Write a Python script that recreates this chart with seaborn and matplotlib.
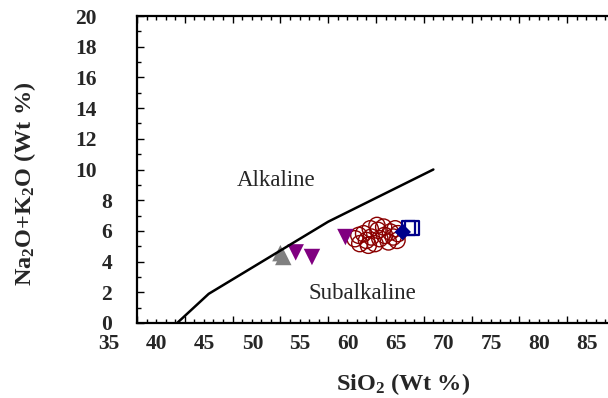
import numpy as np
import pandas as pd
import matplotlib
matplotlib.use('Agg')
import matplotlib.pyplot as plt
from matplotlib.transforms import ScaledTranslation
from matplotlib.ticker import MultipleLocator
import seaborn as sns

# alkaline / subalkaline boundary
line_sio2 = [39.2, 42.5, 55.0, 66.0]
line_alk = [0.0, 1.9, 6.6, 10.0]

# samples
circ_sio2 = [57.8, 58.3, 58.7, 59.0, 59.4, 59.5, 59.9, 60.2, 60.4, 60.8,
             60.9, 61.3, 61.5, 61.8, 62.0, 62.2, 58.2, 59.2, 60.1, 62.3]
circ_alk = [5.49, 5.17, 5.82, 5.38, 6.14, 5.60, 5.17, 6.04, 5.49, 6.25,
            5.71, 5.28, 5.93, 5.60, 6.14, 5.38, 5.71, 5.06, 6.36, 5.82]
tri_up_sio2 = [50.0, 50.3]
tri_up_alk = [4.55, 4.3]
tri_dn_sio2 = [51.6, 53.3, 56.8]
tri_dn_alk = [4.6, 4.3, 5.6]
dia_sio2 = [62.8]
dia_alk = [5.93]
sq_sio2 = [63.4, 63.8]
sq_alk = [6.19, 6.19]

xticks = np.arange(35, 86, 5)
yticks = np.arange(0, 21, 2)

sns.set_style('white')
plt.rcParams['font.family'] = ['Liberation Serif', 'DejaVu Serif']
plt.rcParams['mathtext.default'] = 'regular'

fig = plt.figure(figsize=(6.08, 3.98), dpi=100)
ax = fig.add_axes([137 / 608, 75 / 398, 478 / 608, 307 / 398])

line_df = pd.DataFrame({'x': line_sio2, 'y': line_alk})
sns.lineplot(data=line_df, x='x', y='y', sort=False, color='black', lw=1.8, ax=ax)

sns.scatterplot(x=circ_sio2, y=circ_alk, marker='o', s=135, facecolors='none',
                edgecolor='#8b0000', linewidth=1.0, ax=ax)
sns.scatterplot(x=tri_up_sio2, y=tri_up_alk, marker='^', s=140, color='#808080',
                edgecolor='none', ax=ax)
sns.scatterplot(x=tri_dn_sio2, y=tri_dn_alk, marker='v', s=140, color='#800080',
                edgecolor='none', ax=ax)
sns.scatterplot(x=sq_sio2, y=sq_alk, marker='s', s=100, facecolors='none',
                edgecolor='#00008b', linewidth=1.6, ax=ax)
sns.scatterplot(x=dia_sio2, y=dia_alk, marker='D', s=70, color='#00008b',
                edgecolor='none', ax=ax)

ax.text(49.6, 9.3, 'Alkaline', fontsize=16.5, ha='center', va='center')
ax.text(58.6, 1.95, 'Subalkaline', fontsize=16.5, ha='center', va='center')

ax.set_xlim(35, 85)
ax.set_ylim(0, 20)
ax.set_xticks(xticks)
ax.set_yticks(yticks)
ax.set_xticklabels([str(v) for v in xticks], fontsize=15.5, fontweight='bold')
ax.set_yticklabels([str(v) for v in yticks], fontsize=15.5, fontweight='bold')
ax.xaxis.set_minor_locator(MultipleLocator(1))
ax.yaxis.set_minor_locator(MultipleLocator(1))
ax.tick_params(which='both', direction='in', top=True, right=True, bottom=True, left=True,
               width=1.0, color='black')
ax.tick_params(which='major', length=5)
ax.tick_params(which='minor', length=3)
ax.tick_params(axis='x', which='major', pad=8)
ax.tick_params(axis='y', which='major', pad=18)
for s in ax.spines.values():
    s.set_color('black')
    s.set_linewidth(1.6)

# the labels in the original sit left of their ticks
for lab in ax.get_xticklabels():
    lab.set_transform(lab.get_transform() + ScaledTranslation(-0.28, 0, fig.dpi_scale_trans))
for lab, v in zip(ax.get_yticklabels(), yticks):
    if v >= 10:
        lab.set_transform(lab.get_transform() + ScaledTranslation(-0.15, 0, fig.dpi_scale_trans))

ax.set_xlabel('SiO$_2$ (Wt %)', fontsize=17.5, fontweight='bold')
ax.set_ylabel('Na$_2$O+K$_2$O (Wt %)', fontsize=17.5, fontweight='bold')
ax.xaxis.set_label_coords(0.556, -0.155)
ax.yaxis.set_label_coords(-0.207, 0.453)

fig.savefig('out.png', dpi=100)
